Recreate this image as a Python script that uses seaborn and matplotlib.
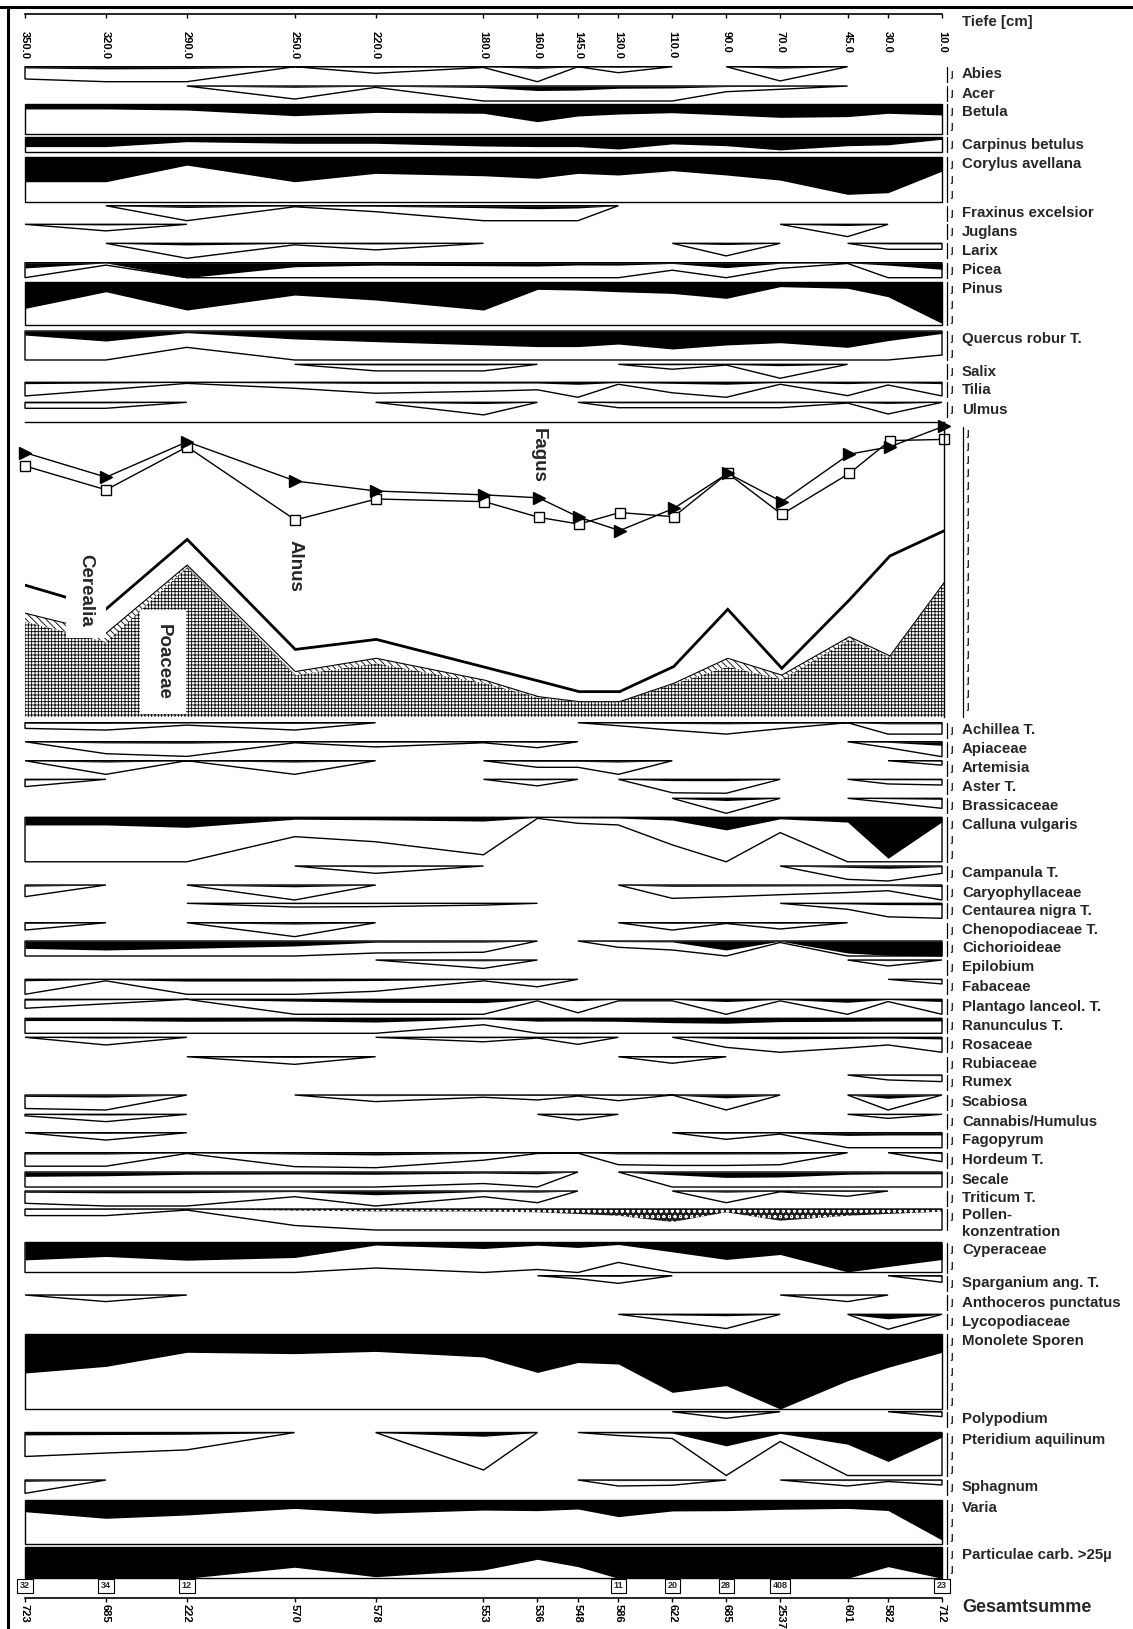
import numpy as np
import matplotlib
matplotlib.use("Agg")
import matplotlib.pyplot as plt
import matplotlib.transforms as mtransforms
import seaborn as sns
from matplotlib.lines import Line2D

sns.set_theme(style="white")
plt.rcParams['font.family'] = ['Liberation Sans', 'DejaVu Sans']
plt.rcParams['hatch.linewidth'] = 0.6

W, H = 1133, 1629

# --- Daten ---
tiefe = [350, 320, 290, 250, 220, 180, 160, 145, 130, 110, 90, 70, 45, 30, 10]
gesamtsumme = [723, 685, 222, 570, 578, 553, 536, 548, 586, 622, 685, 2537, 601, 582, 712]
kasten = [32, 34, 12, None, None, None, None, None, 11, 20, 28, 408, None, None, 23]

abies = [0.82, 1.46, 1.23, 0, 0.44, 0.05, 1.1, 0, 0.4, 0, 0, 0.95, 0, 0, 0]
acer = [0, 0, 0, 0.87, 0.09, 1.0, 3.0, 2.7, 1.5, 1.3, 0.38, 0.22, 0, 0, 0]
betula = [3.3, 3.3, 4.0, 7.8, 5.6, 6.2, 11.8, 8.0, 6.7, 5.8, 7.3, 8.9, 8.4, 6.2, 7.3]
carpinus = [6.2, 6.2, 2.9, 4.0, 4.0, 5.8, 6.2, 6.2, 7.8, 4.4, 5.6, 8.4, 5.6, 5.0, 1.3]
corylus = [16.7, 16.7, 5.6, 16.7, 11.1, 12.7, 14.4, 11.1, 12.2, 9.3, 12.2, 15.6, 25.1, 24.0, 9.6]
fraxinus = [0, 0, 1.18, 0.07, 0.4, 1.3, 2.0, 1.5, 0, 0, 0, 0, 0, 0, 0]
juglans = [0, 0.44, 0, 0, 0, 0, 0, 0, 0, 0, 0, 0, 0.82, 0, 0]
larix = [0, 0, 1.1, 0.1, 0.44, 0, 0, 0, 0, 0, 0.84, 0, 0, 0.4, 0.4]
picea = [3.5, 0.16, 10.5, 2.7, 1.6, 2.0, 2.2, 1.5, 1.6, 0.5, 3.3, 0.38, 0.05, 1.6, 4.4]
pinus = [17.8, 6.7, 18.9, 8.9, 12.2, 18.9, 5.1, 5.6, 6.7, 7.8, 11.1, 3.3, 4.4, 10.0, 27.8]
quercus = [2.7, 6.7, 1.09, 5.3, 7.1, 9.3, 10.4, 10.4, 8.7, 12.0, 9.3, 7.8, 10.9, 6.4, 1.6]
salix = [0, 0, 0, 0, 0.44, 0.44, 0, 0, 0, 0.33, 0.05, 0.93, 0, 0, 0]
tilia = [0.91, 0.5, 0.07, 0.4, 0.73, 0.6, 0.5, 1.35, 0.13, 0.7, 1.3, 0.13, 0.89, 0.18, 0.91]
ulmus = [0.4, 0.4, 0, 0, 0, 0.84, 0, 0, 0.36, 0.36, 0.36, 0.36, 0.05, 0.78, 0]

# Hauptdiagramm (Prozent der Feldhöhe)
fagus = [89.6, 81.3, 93.3, 80.0, 76.6, 75.3, 74.3, 67.7, 63.2, 70.7, 82.6, 73.0, 89.1, 91.6, 98.6]
alnus = [85.1, 77.0, 91.6, 66.8, 73.9, 73.0, 67.7, 65.4, 69.3, 67.9, 82.6, 68.7, 82.6, 93.7, 94.1]
cerealia_linie = [44.7, 36.6, 60.2, 22.9, 26.3, 16.9, 12.2, 8.6, 8.6, 17.1, 36.5, 16.5, 39.7, 54.6, 63.1]
poaceae = [32.3, 25.5, 50.8, 14.2, 18.2, 11.5, 6.6, 5.1, 5.1, 11.2, 17.1, 12.8, 26.3, 20.3, 45.3]
cerealia = [2.9, 2.9, 0.7, 1.2, 1.7, 1.0, 0.3, 0.1, 0.1, 0.2, 2.8, 1.4, 0.9, 0.4, 0.2]

achillea = [0.38, 0.49, 0.16, 0.49, 0, 0, 0, 0, 0.2, 0.5, 0.76, 0.4, 0, 0.76, 0.76]
apiaceae = [0, 0.8, 0.98, 0.07, 0.35, 0.07, 0.4, 0, 0, 0, 0, 0, 0, 0.4, 2.4]
artemisia = [0, 0.91, 0, 0.91, 0, 0, 0.44, 0.44, 0.91, 0, 0, 0, 0, 0, 0.3]
aster = [0.49, 0, 0, 0, 0, 0, 0.44, 0, 0, 0.9, 0.93, 0, 0, 0.31, 0.38]
brassicaceae = [0, 0, 0, 0, 0, 0, 0, 0, 0, 0, 1.5, 0, 0, 0.28, 0.67]
calluna = [5.1, 5.1, 6.7, 1.29, 1.63, 2.5, 0.07, 0.4, 0.51, 1.84, 8.4, 1.02, 3.2, 27.3, 3.0]
campanula = [0, 0, 0, 0, 0.49, 0, 0, 0, 0, 0, 0, 0, 0.89, 1.5, 0.49]
caryophyllaceae = [0.78, 0, 0, 1.2, 0, 0, 0, 0, 0, 0.89, 0.78, 0.65, 0.5, 0.38, 1.0]
centaurea = [0, 0, 0, 0.25, 0.22, 0.12, 0, 0, 0, 0, 0, 0, 0.4, 0.9, 1.0]
chenopodiaceae = [0.49, 0, 0, 0.93, 0, 0, 0, 0, 0, 0.49, 0.05, 0.42, 0, 0, 0]
cichorioideae = [4.9, 6.0, 4.9, 3.3, 0.8, 0.75, 0, 0, 0.42, 0.6, 6.0, 0.1, 8.0, 9.5, 10.0]
epilobium = [0, 0, 0, 0, 0, 0.56, 0, 0, 0, 0, 0, 0, 0, 0.4, 0]
fabaceae = [1.0, 0.1, 1.2, 1.15, 0.8, 0.1, 0.5, 0, 0, 0, 0, 0, 0, 0, 0.31]
plantago = [0.6, 0.3, 0, 1.2, 2.0, 2.2, 0.1, 0.9, 0.1, 0.1, 1.5, 0.1, 2.0, 0.15, 1.5]
ranunculus = [1.5, 1.5, 2.0, 1.8, 2.5, 0.43, 1.9, 1.8, 2.0, 2.9, 3.3, 2.2, 2.0, 1.8, 1.8]
rosaceae = [0, 0.51, 0, 0, 0, 0.3, 0.05, 0.47, 0, 0, 0.67, 1.0, 0.71, 0.51, 1.1]
rubiaceae = [0, 0, 0, 0.51, 0, 0, 0, 0, 0, 0.44, 0, 0, 0, 0, 0]
rumex = [0, 0, 0, 0, 0, 0, 0, 0, 0, 0, 0, 0, 0, 0.33, 0.44]
scabiosa = [0.9, 1.4, 0, 0, 0.44, 0.15, 0.33, 0.07, 0.38, 0, 1.9, 0, 0, 2.2, 0]
cannabis = [0.1, 0.49, 0, 0, 0, 0, 0, 0.38, 0, 0, 0, 0, 0, 0.27, 0]
fagopyrum = [0, 0.49, 0, 0, 0, 0, 0, 0, 0, 0, 0.44, 0.09, 1.8, 1.5, 1.5]
hordeum = [0.9, 0.9, 0.05, 0.93, 1.5, 0.5, 0.05, 0.03, 0.8, 0.85, 0.85, 0.8, 0, 0, 0.6]
secale = [2.9, 2.5, 1.5, 1.3, 1.5, 0.77, 1.2, 0, 0, 1.8, 3.6, 3.3, 1.5, 1.2, 1.2]
triticum = [0.82, 1.2, 1.15, 0.38, 2.5, 0.38, 0.78, 0, 0, 0, 0.78, 0.05, 0.35, 0, 0]
pollenkonz = [0.44, 0.44, 0.07, 1.1, 1.6, 1.7, 2.2, 3.3, 4.5, 8.7, 2.2, 7.8, 4.5, 3.3, 1.8]
cyperaceae = [11.6, 9.3, 11.8, 10.0, 1.7, 4.0, 1.8, 3.3, 1.33, 6.2, 11.3, 8.0, 19.6, 16.0, 11.3]
sparganium = [0, 0, 0, 0, 0, 0, 0, 0.2, 0.51, 0, 0, 0, 0, 0, 0.44]
anthoceros = [0, 0.44, 0, 0, 0, 0, 0, 0, 0, 0, 0, 0, 0.44, 0, 0]
lycopodiaceae = [0, 0, 0, 0, 0, 0, 0, 0, 0, 0.45, 0.95, 0, 0, 3.0, 0]
monolete = [26, 21.6, 12.2, 13.1, 11.6, 15.3, 25.6, 19, 20, 38.9, 34.4, 50, 31.1, 22.2, 12.2]
polypodium = [0, 0, 0, 0, 0, 0, 0, 0, 0, 0, 0.44, 0, 0, 0, 0.33]
pteridium = [1.6, 1.37, 1.16, 0, 0, 2.5, 0, 0, 0.2, 0.4, 8.9, 0.6, 7.8, 19.3, 3.0]
sphagnum = [0.89, 0, 0, 0, 0, 0, 0, 0, 0.4, 0.35, 0, 0, 0.4, 0.1, 0.33]
varia = [7.8, 12.2, 10, 5.6, 8.9, 6.7, 7.1, 6, 11.1, 7.3, 7.1, 6.2, 5.6, 7, 26.7]
particulae = [25, 25, 27, 13.3, 19.6, 15.1, 8, 12.9, 23.5, 22, 22, 22, 22, 12.9, 40]

# Zeilen: Name, Werte, Oberkante [px], Höhe [px], Stil
zeilen = [
    ("Abies", abies, 66.7, 15, "s"), ("Acer", acer, 86, 15, "s"),
    ("Betula", betula, 104, 30, "s"), ("Carpinus betulus", carpinus, 137.3, 15, "s"),
    ("Corylus avellana", corylus, 156.7, 45, "s"), ("Fraxinus excelsior", fraxinus, 205.7, 15, "s"),
    ("Juglans", juglans, 224.3, 15, "s"), ("Larix", larix, 243.3, 15, "s"),
    ("Picea", picea, 262.7, 15, "s"), ("Pinus", pinus, 281.7, 43, "s"),
    ("Quercus robur T.", quercus, 331, 29, "s"), ("Salix", salix, 364.3, 15, "s"),
    ("Tilia", tilia, 382.3, 15, "s"), ("Ulmus", ulmus, 402.3, 15, "s"),
    ("Achillea T.", achillea, 722.7, 15, "s"), ("Apiaceae", apiaceae, 741.7, 15, "s"),
    ("Artemisia", artemisia, 760.7, 15, "s"), ("Aster T.", aster, 779.3, 15, "s"),
    ("Brassicaceae", brassicaceae, 798.3, 15, "s"), ("Calluna vulgaris", calluna, 817.3, 44.5, "s"),
    ("Campanula T.", campanula, 866, 15, "s"), ("Caryophyllaceae", caryophyllaceae, 885, 15, "s"),
    ("Centaurea nigra T.", centaurea, 903.3, 15, "s"), ("Chenopodiaceae T.", chenopodiaceae, 922.7, 15, "s"),
    ("Cichorioideae", cichorioideae, 941, 15, "s"), ("Epilobium", epilobium, 960, 15, "s"),
    ("Fabaceae", fabaceae, 979.3, 15, "s"), ("Plantago lanceol. T.", plantago, 999.3, 15, "s"),
    ("Ranunculus T.", ranunculus, 1018.3, 15, "s"), ("Rosaceae", rosaceae, 1037.3, 15, "s"),
    ("Rubiaceae", rubiaceae, 1056.7, 15, "s"), ("Rumex", rumex, 1075, 15, "s"),
    ("Scabiosa", scabiosa, 1095, 15, "s"), ("Cannabis/Humulus", cannabis, 1114.3, 15, "s"),
    ("Fagopyrum", fagopyrum, 1132.7, 15, "s"), ("Hordeum T.", hordeum, 1152.7, 15, "s"),
    ("Secale", secale, 1172, 15, "s"), ("Triticum T.", triticum, 1191, 15, "s"),
    ("Pollen-\nkonzentration", pollenkonz, 1209, 21, "p"), ("Cyperaceae", cyperaceae, 1242.5, 30, "s"),
    ("Sparganium ang. T.", sparganium, 1275.7, 15, "s"), ("Anthoceros punctatus", anthoceros, 1295, 15, "s"),
    ("Lycopodiaceae", lycopodiaceae, 1314.3, 15, "s"), ("Monolete Sporen", monolete, 1334, 75, "s"),
    ("Polypodium", polypodium, 1411.7, 15, "s"), ("Pteridium aquilinum", pteridium, 1432.5, 43, "s"),
    ("Sphagnum", sphagnum, 1480, 15, "s"), ("Varia", varia, 1500, 44, "s"),
    ("Particulae carb. >25µ", particulae, 1547.3, 31, "s"),
]

X0, X1 = 25, 942          # Pixel von 350 cm und 10 cm
PX_PRO_PROZENT = 1.5
UEBERHOEHUNG = 10


def fx(px):
    return px / W


def fy(py):
    return 1 - py / H


def zeichne_kurve(ax, werte, hoehe, stil):
    x = np.array(tiefe, float)
    v = np.array(werte, float)
    ueber = np.minimum(v * UEBERHOEHUNG, hoehe)
    voll = np.minimum(v, hoehe)
    aktiv = (v[:-1] > 0) | (v[1:] > 0)
    i = 0
    while i < len(aktiv):
        if not aktiv[i]:
            i += 1
            continue
        j = i
        while j < len(aktiv) and aktiv[j]:
            j += 1
        s = slice(i, j + 1)
        if stil == "p":
            ax.fill_between(x[s], 0, voll[s], facecolor="0.12", edgecolor="white",
                            hatch="ooo", lw=0)
        else:
            ax.fill_between(x[s], 0, voll[s], color="black", lw=0)
        ax.fill(np.r_[x[i], x[s], x[j]], np.r_[0, ueber[s], 0], fill=False,
                ec="black", lw=1.0, clip_on=False)
        i = j


def skala(x_px, oben, unten, schritt, versatz):
    fig.add_artist(Line2D([fx(x_px), fx(x_px)], [fy(oben), fy(unten)],
                          color="black", lw=0.9))
    y = oben + versatz
    while y < unten - 2:
        fig.text(fx(x_px + 4.5), fy(y), "ȷ", fontsize=7, fontweight="bold",
                 ha="center", va="center")
        y += schritt


fig = plt.figure(figsize=(W / 100, H / 100), dpi=100)

for name, werte, oben, hoehe_px, stil in zeilen:
    hoehe = hoehe_px / PX_PRO_PROZENT
    ax = fig.add_axes([fx(X0), fy(oben + hoehe_px), fx(X1 - X0), hoehe_px / H])
    ax.set_xlim(350, 10)
    ax.set_ylim(hoehe, 0)
    ax.axis("off")
    zeichne_kurve(ax, werte, hoehe, stil)
    skala(947, oben, oben + hoehe_px, 15, 7)
    if "\n" in name:
        fig.text(fx(962), fy(oben - 1), name, fontsize=10.8, fontweight="bold",
                 ha="left", va="top", linespacing=1.3)
    else:
        fig.text(fx(962), fy(oben + 7.5), name, fontsize=10.8, fontweight="bold",
                 ha="left", va="center")

# Hauptdiagramm Baumpollen / Gräser
P_OBEN, P_UNTEN = 422, 717
axp = fig.add_axes([fx(X0), fy(P_UNTEN), fx(X1 - X0 + 2), (P_UNTEN - P_OBEN) / H])
axp.set_xlim(350, 10)
axp.set_ylim(0, 100)
oben_cer = np.add(poaceae, cerealia)
axp.fill_between(tiefe, 0, poaceae, facecolor="white", edgecolor="black", hatch="+++++", lw=0)
axp.fill_between(tiefe, poaceae, oben_cer, facecolor="white", edgecolor="black",
                 hatch="\\\\\\\\\\", lw=0)
axp.plot(tiefe, oben_cer, color="black", lw=0.8)
axp.plot(tiefe, cerealia_linie, color="black", lw=2.0, solid_joinstyle="miter")
axp.plot(tiefe, alnus, color="black", lw=1.0, marker="s", ms=7, mfc="white", mec="black",
         mew=1.0, clip_on=False)
axp.plot(tiefe, fagus, color="black", lw=1.0, marker=">", ms=8, mfc="black", mec="black",
         clip_on=False)
for s in ["left", "bottom"]:
    axp.spines[s].set_visible(False)
for s in ["top", "right"]:
    axp.spines[s].set_color("black")
    axp.spines[s].set_linewidth(1.0)
axp.set_xticks([])
axp.set_yticks([])
axp.patch.set_alpha(0)

kw = dict(fontsize=13.5, fontweight="bold", rotation=-90, ha="center", va="center")
fig.text(fx(538), fy(455), "Fagus", **kw)
fig.text(fx(295), fy(566), "Alnus", **kw)
fig.text(fx(86), fy(590), "Cerealia",
         bbox=dict(boxstyle="square,pad=0.6", fc="white", ec="none"), **kw)
fig.text(fx(163), fy(662), "Poaceae",
         bbox=dict(boxstyle="square,pad=0.75", fc="white", ec="none"), **kw)

skala(963, 427, P_UNTEN, 13, 6)

# Tiefenachse oben
axt = fig.add_axes([fx(X0), fy(14), fx(X1 - X0), 0.0001])
axt.set_xlim(350, 10)
axt.set_xticks(tiefe)
axt.set_xticklabels([f"{t:.1f}" for t in tiefe], rotation=-90, fontsize=8, fontweight="bold")
axt.set_yticks([])
for s in ["left", "right", "top"]:
    axt.spines[s].set_visible(False)
axt.spines["bottom"].set_color("black")
axt.spines["bottom"].set_linewidth(1.2)
axt.tick_params(axis="x", bottom=True, direction="out", length=3, width=1, pad=9, colors="black")
fig.text(fx(962), fy(22), "Tiefe [cm]", fontsize=10.8, fontweight="bold", ha="left", va="center")

# Gesamtsumme unten
axb = fig.add_axes([fx(X0), fy(1598), fx(X1 - X0), 0.0001])
axb.set_xlim(350, 10)
axb.set_xticks(tiefe)
axb.set_xticklabels([str(g) for g in gesamtsumme], rotation=-90, fontsize=8, fontweight="bold")
axb.set_yticks([])
for s in ["left", "right", "top"]:
    axb.spines[s].set_visible(False)
axb.spines["bottom"].set_color("black")
axb.spines["bottom"].set_linewidth(1.2)
axb.tick_params(axis="x", bottom=True, direction="out", length=3, width=1, pad=1.5, colors="black")
fig.text(fx(962), fy(1608), "Gesamtsumme", fontsize=13, fontweight="bold", ha="left", va="center")

trans = mtransforms.blended_transform_factory(axb.transData, fig.transFigure)
for t, k in zip(tiefe, kasten):
    if k is None:
        continue
    fig.text(t, fy(1586), str(k), transform=trans, fontsize=6.5, fontweight="bold",
             ha="center", va="center",
             bbox=dict(boxstyle="square,pad=0.3", fc="white", ec="black", lw=0.8))

# Rahmen
fig.add_artist(Line2D([0, 1], [fy(7), fy(7)], color="black", lw=2.2))
fig.add_artist(Line2D([fx(8), fx(8)], [0, fy(7)], color="black", lw=2.2))

fig.savefig("out.png", dpi=100, facecolor="white")
